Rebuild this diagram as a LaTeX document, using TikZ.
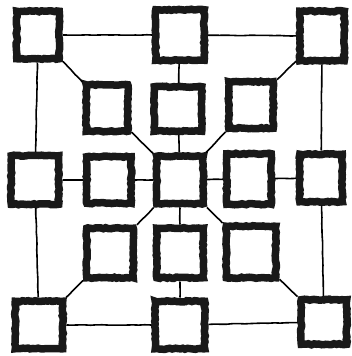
\documentclass[tikz,border=0pt]{standalone}
\usetikzlibrary{decorations.pathmorphing}
\tikzset{
  sq/.style={draw=black!90, line width=7.5pt, inner sep=0pt,
    decorate, decoration={random steps, segment length=2.5pt, amplitude=0.6pt}},
  link/.style={draw=black, line width=1.6pt,
    decorate, decoration={random steps, segment length=6pt, amplitude=0.25pt}}
}
\newcommand{\sqnode}[5]{\node[sq, minimum width=#4pt-7.5pt, minimum height=#5pt-7.5pt] (#1) at (#2,#3) {};}
\begin{document}
\begin{tikzpicture}[x=1pt,y=-1pt]
\useasboundingbox (0,0) rectangle (352,356);
% outer ring
\sqnode{tl}{38}{35}{50}{55}
\sqnode{tm}{180}{35}{56}{58}
\sqnode{tr}{322}{36}{52}{57}
\sqnode{ml}{35}{180}{55}{56}
\sqnode{mr}{321}{178}{50}{55}
\sqnode{bl}{39}{325}{55}{55}
\sqnode{bm}{180}{325}{57}{55}
\sqnode{br}{324}{322}{53}{52}
% inner ring
\sqnode{itl}{107}{108}{49}{54}
\sqnode{itm}{178}{109}{55}{52}
\sqnode{itr}{251}{105}{52}{54}
\sqnode{iml}{109}{180}{52}{54}
\sqnode{c}{180}{180}{54}{55}
\sqnode{imr}{249}{179}{52}{58}
\sqnode{ibl}{110}{253}{54}{57}
\sqnode{ibm}{180}{253}{54}{57}
\sqnode{ibr}{251}{252}{57}{59}
% outer ring links
\draw[link] (tl) -- (tm);
\draw[link] (tm) -- (tr);
\draw[link] (tl) -- (ml);
\draw[link] (ml) -- (bl);
\draw[link] (tr) -- (mr);
\draw[link] (mr) -- (br);
\draw[link] (bl) -- (bm);
\draw[link] (bm) -- (br);
% outer to inner
\draw[link] (tl) -- (itl);
\draw[link] (tm) -- (itm);
\draw[link] (tr) -- (itr);
\draw[link] (ml) -- (iml);
\draw[link] (mr) -- (imr);
\draw[link] (bl) -- (ibl);
\draw[link] (bm) -- (ibm);
\draw[link] (br) -- (ibr);
% center to inner
\draw[link] (c) -- (itl);
\draw[link] (c) -- (itm);
\draw[link] (c) -- (itr);
\draw[link] (c) -- (iml);
\draw[link] (c) -- (imr);
\draw[link] (c) -- (ibl);
\draw[link] (c) -- (ibm);
\draw[link] (c) -- (ibr);
\end{tikzpicture}
\end{document}
